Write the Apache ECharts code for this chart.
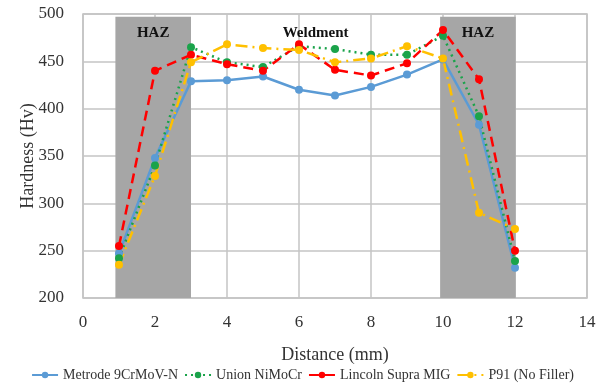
<!DOCTYPE html>
<html><head><meta charset="utf-8">
<script src="https://cdn.jsdelivr.net/npm/echarts@6/dist/echarts.min.js"></script>
<style>html,body{margin:0;padding:0;background:#fff}#c{width:605px;height:390px}</style>
</head><body><div id="c"></div>
<script>
const distances = [1,2,3,4,5,6,7,8,9,10,11,12];
const metrode = [247,348,429,430,434,420,414,423,436,452,383,232];
const unionNi = [242,340,465,449,444,466,463,457,457,477,392,239];
const lincoln = [255,440,457,447,440,468,441,435,448,483,431,250];
const p91     = [235,329,449,468,464,462,449,453,466,453,290,273];
const seriesNames = ['Metrode 9CrMoV-N','Union NiMoCr','Lincoln Supra MIG','P91 (No Filler)'];
const zones = [
  {label:'HAZ', from:0.9, to:3, shaded:true},
  {label:'Weldment', from:3, to:9.92, shaded:false},
  {label:'HAZ', from:9.92, to:12.02, shaded:true}
];
const xTicks = {min:0, max:14, interval:2};
const yTicks = {min:200, max:500, interval:50};

const font = 'Liberation Serif';
const pair = arr => distances.map((d,i)=>[d,arr[i]]);
const mk = (name, arr, color, type) => ({
  name, type:'line', data: pair(arr), z:3,
  symbol:'circle', symbolSize:8,
  itemStyle:{color},
  lineStyle:{color, width:2.5, type},
});
const chart = echarts.init(document.getElementById('c'));
chart.setOption({
  animation:false,
  textStyle:{fontFamily:font},
  grid:{left:83, right:18, top:14, bottom:92, show:true, borderColor:'#bfbfbf', borderWidth:1.5, z:1},
  xAxis:{type:'value', min:xTicks.min, max:xTicks.max, interval:xTicks.interval, z:1,
    name:'Distance (mm)', nameLocation:'middle', nameGap:48, nameMoveOverlap:false,
    nameTextStyle:{fontFamily:font, fontSize:18, color:'#333'},
    axisLine:{show:false}, axisTick:{show:false},
    axisLabel:{fontFamily:font, fontSize:17, color:'#333', margin:16},
    splitLine:{lineStyle:{color:'#c4c4c4', width:1.5}}},
  yAxis:{type:'value', min:yTicks.min, max:yTicks.max, interval:yTicks.interval, z:1,
    name:'Hardness (Hv)', nameLocation:'middle', nameGap:46, nameMoveOverlap:false,
    nameTextStyle:{fontFamily:font, fontSize:18, color:'#333'},
    axisLine:{show:false}, axisTick:{show:false},
    axisLabel:{fontFamily:font, fontSize:17, color:'#333', margin:19},
    splitLine:{lineStyle:{color:'#c4c4c4', width:1.5}}},
  legend:{bottom:3, left:'center', itemWidth:26, itemHeight:8, itemGap:6,
    textStyle:{fontFamily:font, fontSize:14, color:'#333'},
    data: seriesNames},
  series:[
    {type:'line', data:[], z:0, silent:true,
      markArea:{silent:true, data: zones.map(zn=>[
        {xAxis:zn.from, yAxis:497, name:zn.label,
          itemStyle:{color: zn.shaded ? '#a6a6a6' : 'rgba(0,0,0,0)'},
          label:{show:true, position:'insideTop', distance:9, formatter:zn.label,
            fontFamily:font, fontWeight:'bold', fontSize:15, color:'#111'}},
        {xAxis:zn.to, yAxis:200}
      ])}},
    mk(seriesNames[0], metrode, '#5b9bd5', 'solid'),
    mk(seriesNames[1], unionNi, '#1aa34a', [2,4]),
    mk(seriesNames[2], lincoln, '#ff0000', [10,6]),
    mk(seriesNames[3], p91, '#ffc000', [12,5,2,5]),
  ]
});
</script></body></html>
